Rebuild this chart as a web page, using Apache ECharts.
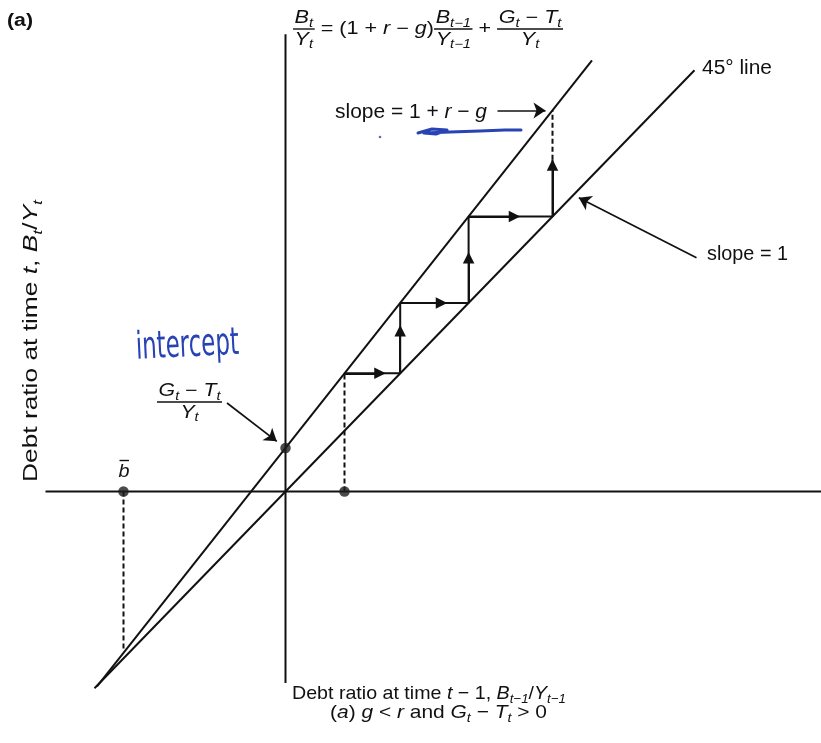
<!DOCTYPE html>
<html>
<head>
<meta charset="utf-8">
<script src="https://cdn.jsdelivr.net/npm/echarts@6/dist/echarts.min.js"></script>
<style>
  html, body { margin: 0; padding: 0; background: #ffffff; }
  #chart { width: 821px; height: 743px; }
</style>
</head>
<body>
<div id="chart"></div>
<script>
// Debt dynamics: B_t/Y_t plotted against B_{t-1}/Y_{t-1}, case g < r and G_t - T_t > 0

// ---- values (diagram units) ----
const intercept = 4.22;            // (G_t - T_t)/Y_t, where the steep line meets the vertical axis
const slopeSteep = 1.228;          // 1 + r - g
const line45 = [[-19.1, -19.1], [40.9, 40.9]];
const steepLine = [[-18.85, -18.93], [30.65, 41.86]];
const horizAxis = [[-24.0, 0], [53.6, 0]];
const vertAxis = [[0, -18.6], [0, 44.4]];
const staircase = [[5.9, 11.47], [11.47, 11.47], [11.47, 18.31], [18.31, 18.31],
                   [18.31, 26.70], [26.70, 26.70], [26.70, 32.2]];
const guideStart = [[5.9, 0], [5.9, 11.47]];
const guideTop = [[26.70, 32.2], [26.70, 37.01]];
const guideFixed = [[-16.2, 0], [-16.2, -15.5]];
const dots = [[0, intercept], [-16.2, 0], [5.9, 0]];
// arrowheads along the staircase: [segment start, arrowhead]
const stepArrows = [
  [[5.9, 11.47], [9.45, 11.47]],
  [[11.47, 11.47], [11.47, 15.6]],
  [[11.47, 18.31], [15.6, 18.31]],
  [[18.31, 18.31], [18.31, 22.7]],
  [[18.31, 26.70], [22.9, 26.70]],
  [[26.70, 26.70], [26.70, 31.7]]
];
// label pointers: [tail, head]
const pointerArrows = [
  [[21.2, 37.0], [26.0, 37.0]],     // slope = 1 + r - g
  [[41.1, 22.7], [29.33, 28.53]],   // slope = 1
  [[-5.85, 8.59], [-0.87, 4.87]]    // (G_t - T_t)/Y_t
];

// ---- look ----
const INK = '#111111';
const PEN = '#2843b4';
const SANS = '"Liberation Sans", Arial, Helvetica, sans-serif';

// ---- text layout helpers (runs with italics and subscripts, stacked fractions) ----
const ctx2d = document.createElement('canvas').getContext('2d');
function fontOf(size, italic, bold, family) {
  return (italic ? 'italic ' : '') + (bold ? 'bold ' : '') + size + 'px ' + (family || SANS);
}
function textWidth(str, font) { ctx2d.font = font; return ctx2d.measureText(str).width; }
function run(parts, size, color, family) {
  const kids = []; let x = 0;
  parts.forEach(function (p) {
    const str = p[0], f = p[1] || '';
    const sub = f.indexOf('s') >= 0;
    const sz = sub ? size * 0.68 : size;
    const font = fontOf(sz, f.indexOf('i') >= 0, f.indexOf('b') >= 0, family);
    kids.push({
      type: 'text', x: x, y: sub ? size * 0.3 : 0,
      style: { text: str, font: font, fill: color || INK,
               align: 'left', verticalAlign: 'middle', textAlign: 'left', textVerticalAlign: 'middle' }
    });
    x += textWidth(str, font);
  });
  return { kids: kids, width: x };
}
function frac(num, den, size) {
  const a = run(num, size), b = run(den, size);
  const w = Math.max(a.width, b.width) + size * 0.15;
  return { width: w, kids: [
    { type: 'group', x: (w - a.width) / 2, y: -size * 0.62, children: a.kids },
    { type: 'line', shape: { x1: 0, y1: 0, x2: w, y2: 0 }, style: { stroke: INK, lineWidth: 1.4 } },
    { type: 'group', x: (w - b.width) / 2, y: size * 0.62, children: b.kids }
  ]};
}
function row(blocks) {
  const kids = []; let x = 0;
  blocks.forEach(function (b) { kids.push({ type: 'group', x: x, children: b.kids }); x += b.width; });
  return { kids: kids, width: x };
}
function place(block, x, y, width, opts) {
  opts = opts || {};
  const off = opts.center ? -block.width / 2 : 0;
  return { type: 'group', x: x, y: y, scaleX: width / block.width, rotation: opts.rotation || 0,
           silent: true, z: 20, children: [{ type: 'group', x: off, children: block.kids }] };
}

// ---- texts ----
const eqSize = 17.5;
const equation = row([
  frac([['B', 'i'], ['t', 'is']], [['Y', 'i'], ['t', 'is']], eqSize),
  run([[' = (1 + '], ['r', 'i'], [' \u2212 '], ['g', 'i'], [')']], eqSize),
  frac([['B', 'i'], ['t\u22121', 'is']], [['Y', 'i'], ['t\u22121', 'is']], eqSize),
  run([[' + ']], eqSize),
  frac([['G', 'i'], ['t', 'is'], [' \u2212 '], ['T', 'i'], ['t', 'is']], [['Y', 'i'], ['t', 'is']], eqSize)
]);
const gtLabel = frac([['G', 'i'], ['t', 'is'], [' \u2212 '], ['T', 'i'], ['t', 'is']], [['Y', 'i'], ['t', 'is']], 17.5);
const bBar = run([['b', 'i']], 19);
bBar.kids.push({ type: 'line', shape: { x1: 1, y1: -11.5, x2: bBar.width - 0.5, y2: -11.5 }, style: { stroke: INK, lineWidth: 1.4 } });

const texts = [
  place(run([['(a)', 'b']], 18), 7, 21, 26),
  place(equation, 293, 29, 270),
  place(run([['slope = 1 + '], ['r', 'i'], [' \u2212 '], ['g', 'i']], 20.5), 335, 112, 152),
  place(run([['45\u00b0 line']], 19.5), 702, 69, 70),
  place(run([['slope = 1']], 20), 707, 254, 81),
  place(gtLabel, 189.5, 402, 65, { center: true }),
  place(bBar, 124, 472, 11, { center: true }),
  place(run([['Debt ratio at time '], ['t', 'i'], [', '], ['B', 'i'], ['t', 'is'], ['/'], ['Y', 'i'], ['t', 'is']], 19.5),
        32, 341, 282, { center: true, rotation: Math.PI / 2 }),
  place(run([['Debt ratio at time '], ['t', 'i'], [' \u2212 1, '], ['B', 'i'], ['t\u22121', 'is'], ['/'], ['Y', 'i'], ['t\u22121', 'is']], 19),
        292, 694, 274),
  place(run([['('], ['a', 'i'], [') '], ['g', 'i'], [' < '], ['r', 'i'], [' and '], ['G', 'i'], ['t', 'is'],
             [' \u2212 '], ['T', 'i'], ['t', 'is'], [' > 0']], 19), 330, 713, 217),
  place(run([['intercept']], 38, PEN, '"DejaVu Sans", sans-serif'), 136, 349, 103, { rotation: 0.05 })
];

// pen marks under the slope label
const penMarks = [
  { type: 'polyline', silent: true, z: 19,
    shape: { points: [[418, 133], [432, 129], [447, 130], [436, 134], [424, 133], [450, 132], [480, 131], [505, 130], [521, 130]] },
    style: { stroke: PEN, lineWidth: 3, fill: null, lineJoin: 'round', lineCap: 'round' } },
  { type: 'circle', silent: true, z: 19, shape: { cx: 380, cy: 137, r: 1.3 }, style: { fill: '#5a6ea8' } }
];

// ---- series ----
function seg(data, dashed) {
  return { type: 'line', data: data, symbol: 'none', silent: true, animation: false, z: 2,
           lineStyle: { color: INK, width: 2, type: dashed ? [5, 3] : 'solid' } };
}

const option = {
  backgroundColor: '#ffffff',
  animation: false,
  grid: { left: 0, right: 0, top: 0, bottom: 0, containLabel: false },
  xAxis: { type: 'value', min: -28.55, max: 53.55, show: false },
  yAxis: { type: 'value', min: -24.42, max: 47.72, show: false },
  series: [
    seg(horizAxis), seg(vertAxis), seg(line45), seg(steepLine), seg(staircase),
    seg(guideStart, true), seg(guideTop, true), seg(guideFixed, true),
    { type: 'lines', coordinateSystem: 'cartesian2d', silent: true, animation: false, z: 3,
      data: stepArrows.map(function (c) { return { coords: c }; }),
      symbol: ['none', 'triangle'], symbolSize: 11.5,
      lineStyle: { color: INK, width: 2, opacity: 1 }, itemStyle: { color: INK } },
    { type: 'lines', coordinateSystem: 'cartesian2d', silent: true, animation: false, z: 3,
      data: pointerArrows.map(function (c) { return { coords: c }; }),
      symbol: ['none', 'arrow'], symbolSize: 12,
      lineStyle: { color: INK, width: 1.7, opacity: 1 }, itemStyle: { color: INK } },
    { type: 'scatter', data: dots, symbol: 'circle', symbolSize: 10.5, silent: true, animation: false, z: 4,
      itemStyle: { color: '#1e1e1e' } }
  ],
  graphic: { elements: texts.concat(penMarks) }
};

const chart = echarts.init(document.getElementById('chart'));
chart.setOption(option);
</script>
</body>
</html>
